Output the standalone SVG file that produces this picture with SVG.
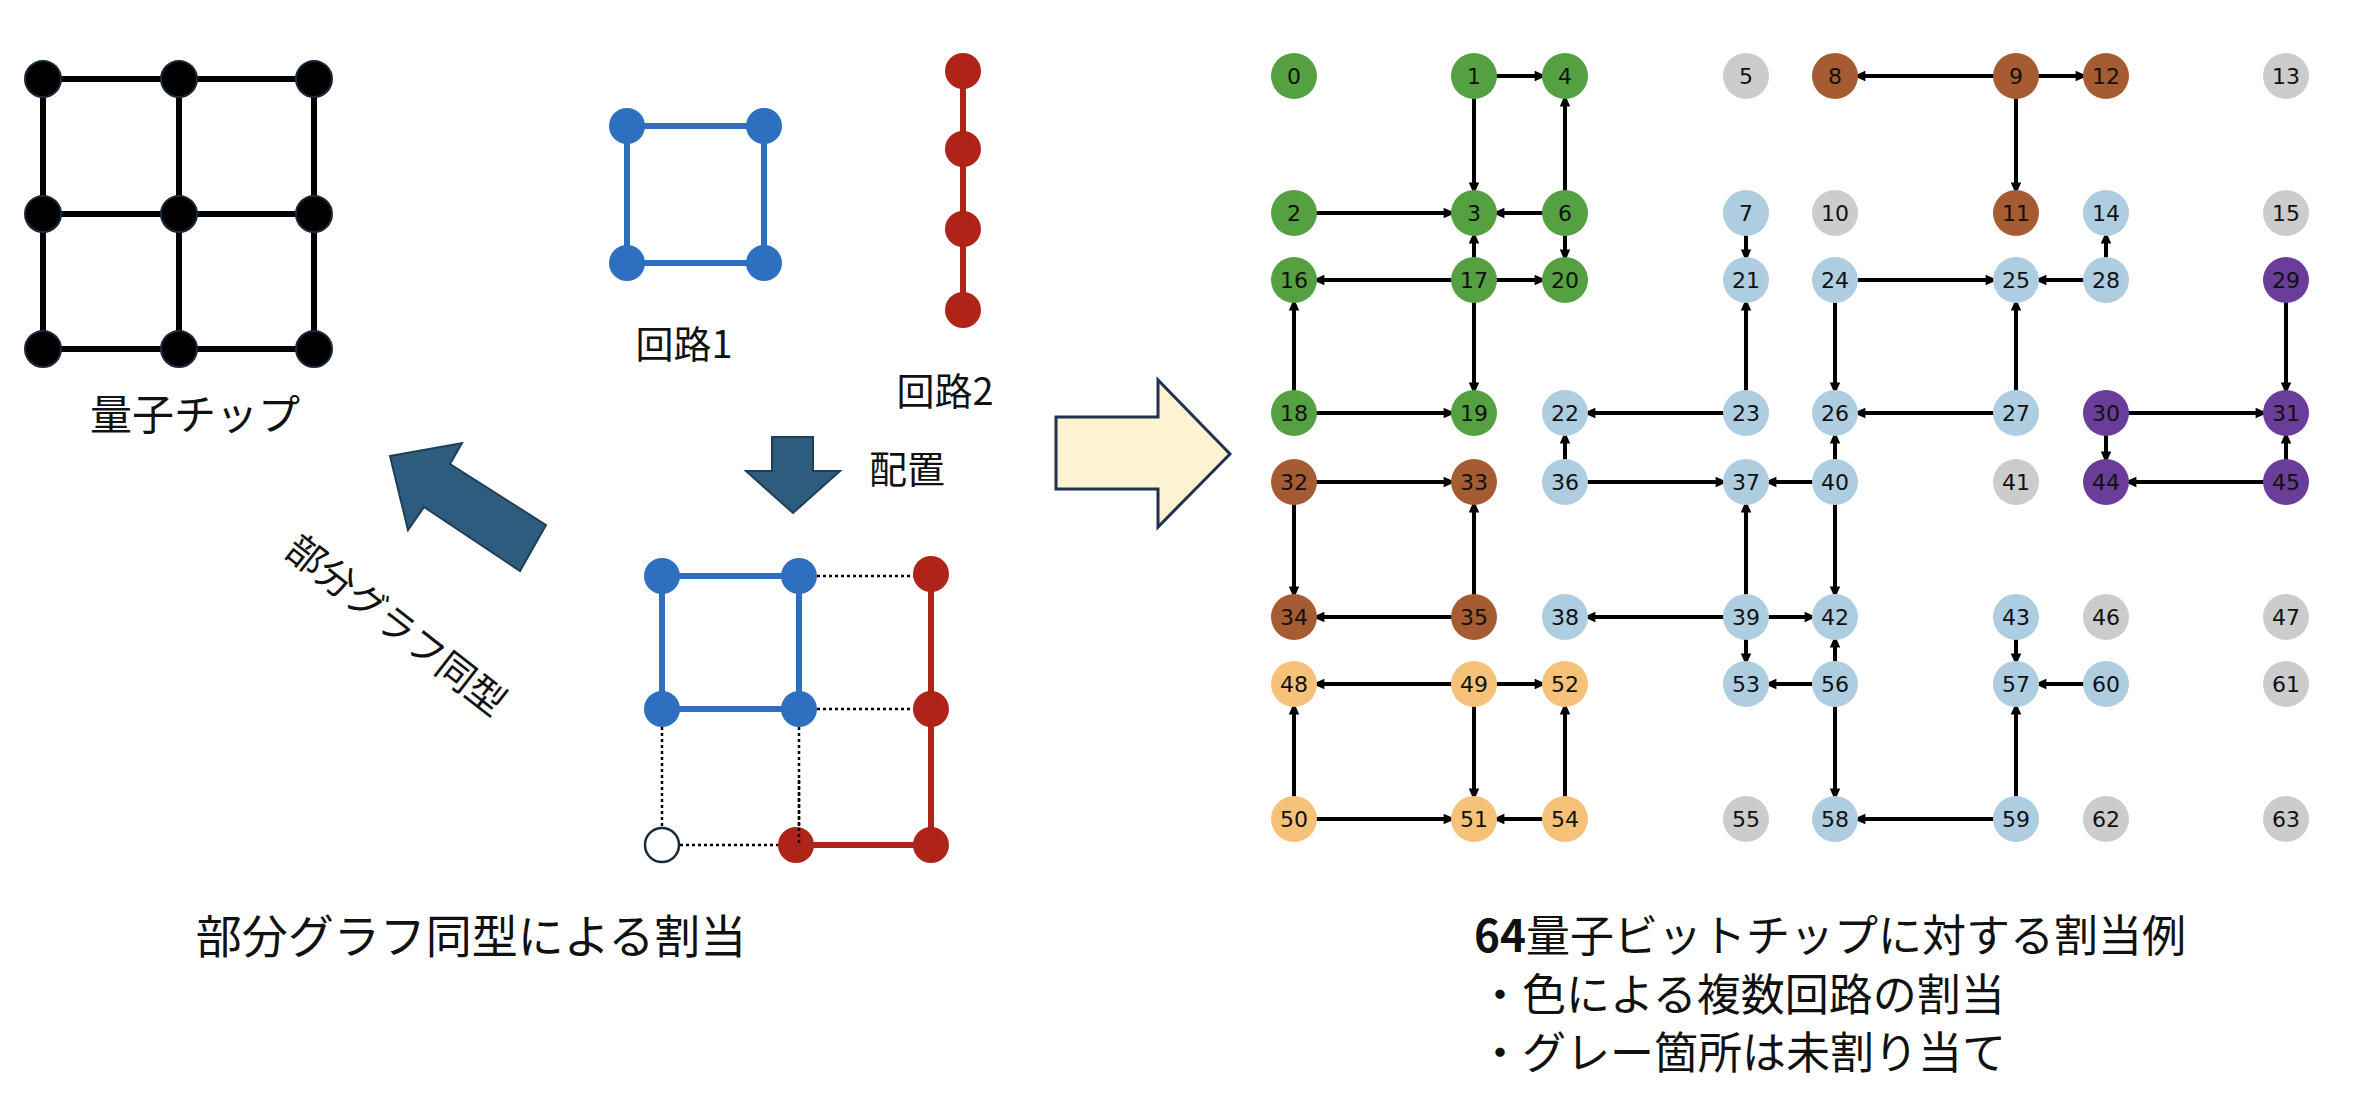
<svg xmlns="http://www.w3.org/2000/svg" width="2370" height="1110" viewBox="0 0 2370 1110">
<style>
.t{font-family:"Noto Sans CJK JP","Liberation Sans",sans-serif;fill:#111}
.n{font-family:"DejaVu Sans",sans-serif;font-size:22px;text-anchor:middle;dominant-baseline:central;fill:#111}
.e line{stroke:#000;stroke-width:4;marker-end:url(#ah)}
.g{fill:#55a040}.b{fill:#a65c32}.l{fill:#aecde1}.y{fill:#cccccc}.p{fill:#6a3d9a}.o{fill:#f6c27a}
.chip line{stroke:#000;stroke-width:6}
.dot{stroke:#000;stroke-width:2.5;stroke-dasharray:3 3;fill:none}
</style>
<defs>
<marker id="ah" markerUnits="userSpaceOnUse" markerWidth="40" markerHeight="20" refX="23" refY="0" orient="auto" viewBox="-20 -10 50 20" style="overflow:visible">
<path d="M-15,-6.5 L0,0 L-15,6.5 z" fill="#000"/>
</marker>
</defs>
<rect width="2370" height="1110" fill="#fff"/>
<g id="chip" class="chip">
<line x1="43" y1="79" x2="314" y2="79"/><line x1="43" y1="214" x2="314" y2="214"/><line x1="43" y1="349" x2="314" y2="349"/>
<line x1="43" y1="79" x2="43" y2="349"/><line x1="179" y1="79" x2="179" y2="349"/><line x1="314" y1="79" x2="314" y2="349"/>
<g fill="#000" stroke="#1a2a3a" stroke-width="2">
<circle cx="43" cy="79" r="18"/><circle cx="179" cy="79" r="18"/><circle cx="314" cy="79" r="18"/>
<circle cx="43" cy="214" r="18"/><circle cx="179" cy="214" r="18"/><circle cx="314" cy="214" r="18"/>
<circle cx="43" cy="349" r="18"/><circle cx="179" cy="349" r="18"/><circle cx="314" cy="349" r="18"/>
</g>
<text class="t" x="195" y="430" font-size="42" text-anchor="middle">量子チップ</text>
</g>
<g id="circuit1">
<rect x="627" y="126" width="137" height="137" fill="none" stroke="#2f6fbf" stroke-width="6"/>
<g fill="#2f6fbf"><circle cx="627" cy="126" r="18"/><circle cx="764" cy="126" r="18"/><circle cx="627" cy="263" r="18"/><circle cx="764" cy="263" r="18"/></g>
<text class="t" x="684" y="358" font-size="38" text-anchor="middle">回路1</text>
</g>
<g id="circuit2">
<line x1="963" y1="71" x2="963" y2="310" stroke="#b02318" stroke-width="6"/>
<g fill="#b02318"><circle cx="963" cy="71" r="18"/><circle cx="963" cy="149" r="18"/><circle cx="963" cy="229" r="18"/><circle cx="963" cy="310" r="18"/></g>
<text class="t" x="945" y="405" font-size="38" text-anchor="middle">回路2</text>
</g>
<g id="place-arrow">
<polygon points="772,437 813,437 813,471 840,471 793,513 746,471 772,471" fill="#2e5c7e" stroke="#1f3f58" stroke-width="2"/>
<text class="t" x="869" y="483" font-size="38">配置</text>
</g>
<g id="iso-arrow">
<polygon points="390,456 462,443 450,464 546,525 520,571 424,507 408,530" fill="#2e5c7e" stroke="#1f3f58" stroke-width="2"/>
<text class="t" x="398" y="623" font-size="38" text-anchor="middle" dominant-baseline="central" transform="rotate(38 398 623)">部分グラフ同型</text>
</g>
<g id="mapped">
<line class="dot" x1="799" y1="576" x2="931" y2="576"/>
<line class="dot" x1="799" y1="709" x2="931" y2="709"/>
<line class="dot" x1="662" y1="709" x2="662" y2="845"/>
<line class="dot" x1="799" y1="709" x2="799" y2="845"/>
<line class="dot" x1="662" y1="845" x2="796" y2="845"/>
<rect x="662" y="576" width="137" height="133" fill="none" stroke="#2f6fbf" stroke-width="6"/>
<polyline points="931,574 931,845 796,845" fill="none" stroke="#b02318" stroke-width="6"/>
<g fill="#2f6fbf"><circle cx="662" cy="576" r="18"/><circle cx="799" cy="576" r="18"/><circle cx="662" cy="709" r="18"/><circle cx="799" cy="709" r="18"/></g>
<g fill="#b02318"><circle cx="931" cy="574" r="18"/><circle cx="931" cy="709" r="18"/><circle cx="931" cy="845" r="18"/><circle cx="796" cy="845" r="18"/></g>
<circle cx="662" cy="845" r="17" fill="#fff" stroke="#1a2a3a" stroke-width="2.5"/>
<line class="dot" x1="799" y1="780" x2="799" y2="845"/>
<text class="t" x="471" y="953" font-size="46" text-anchor="middle">部分グラフ同型による割当</text>
</g>
<g id="big-arrow">
<polygon points="1056,417 1158,417 1158,380 1230,454 1158,527 1158,489 1056,489" fill="#fdf3d0" stroke="#1f3350" stroke-width="3"/>
</g>
<g id="connectors" class="e">
<line x1="1474" y1="76" x2="1565" y2="76"/><line x1="1474" y1="76" x2="1474" y2="213"/><line x1="1565" y1="213" x2="1565" y2="76"/>
<line x1="1294" y1="213" x2="1474" y2="213"/><line x1="1565" y1="213" x2="1474" y2="213"/><line x1="1565" y1="213" x2="1565" y2="280"/>
<line x1="2016" y1="76" x2="1835" y2="76"/><line x1="2016" y1="76" x2="2106" y2="76"/><line x1="2016" y1="76" x2="2016" y2="213"/>
<line x1="1746" y1="213" x2="1746" y2="280"/><line x1="2106" y1="280" x2="2106" y2="213"/>
<line x1="1474" y1="280" x2="1294" y2="280"/><line x1="1474" y1="280" x2="1565" y2="280"/><line x1="1474" y1="280" x2="1474" y2="213"/><line x1="1474" y1="280" x2="1474" y2="413"/>
<line x1="1294" y1="413" x2="1294" y2="280"/><line x1="1294" y1="413" x2="1474" y2="413"/>
<line x1="1835" y1="280" x2="2016" y2="280"/><line x1="2106" y1="280" x2="2016" y2="280"/><line x1="1835" y1="280" x2="1835" y2="413"/>
<line x1="2016" y1="413" x2="2016" y2="280"/><line x1="1746" y1="413" x2="1746" y2="280"/><line x1="1746" y1="413" x2="1565" y2="413"/>
<line x1="2286" y1="280" x2="2286" y2="413"/><line x1="2016" y1="413" x2="1835" y2="413"/><line x1="2106" y1="413" x2="2286" y2="413"/>
<line x1="2106" y1="413" x2="2106" y2="482"/><line x1="2286" y1="482" x2="2286" y2="413"/><line x1="2286" y1="482" x2="2106" y2="482"/>
<line x1="1565" y1="482" x2="1565" y2="413"/><line x1="1565" y1="482" x2="1746" y2="482"/><line x1="1835" y1="482" x2="1746" y2="482"/>
<line x1="1835" y1="482" x2="1835" y2="413"/><line x1="1835" y1="482" x2="1835" y2="617"/><line x1="1746" y1="617" x2="1746" y2="482"/>
<line x1="1294" y1="482" x2="1474" y2="482"/><line x1="1294" y1="482" x2="1294" y2="617"/><line x1="1474" y1="617" x2="1474" y2="482"/>
<line x1="1474" y1="617" x2="1294" y2="617"/><line x1="1746" y1="617" x2="1565" y2="617"/><line x1="1746" y1="617" x2="1835" y2="617"/>
<line x1="1746" y1="617" x2="1746" y2="684"/><line x1="1835" y1="684" x2="1835" y2="617"/><line x1="1835" y1="684" x2="1746" y2="684"/>
<line x1="2016" y1="617" x2="2016" y2="684"/><line x1="2106" y1="684" x2="2016" y2="684"/>
<line x1="1474" y1="684" x2="1294" y2="684"/><line x1="1474" y1="684" x2="1565" y2="684"/><line x1="1474" y1="684" x2="1474" y2="819"/>
<line x1="1294" y1="819" x2="1294" y2="684"/><line x1="1294" y1="819" x2="1474" y2="819"/><line x1="1565" y1="819" x2="1474" y2="819"/>
<line x1="1565" y1="819" x2="1565" y2="684"/><line x1="1835" y1="684" x2="1835" y2="819"/><line x1="2016" y1="819" x2="1835" y2="819"/>
<line x1="2016" y1="819" x2="2016" y2="684"/>
</g>
<g id="q0"><circle class="g" cx="1294" cy="76" r="23"/><text class="n" x="1294" y="76">0</text></g>
<g id="q1"><circle class="g" cx="1474" cy="76" r="23"/><text class="n" x="1474" y="76">1</text></g>
<g id="q4"><circle class="g" cx="1565" cy="76" r="23"/><text class="n" x="1565" y="76">4</text></g>
<g id="q5"><circle class="y" cx="1746" cy="76" r="23"/><text class="n" x="1746" y="76">5</text></g>
<g id="q8"><circle class="b" cx="1835" cy="76" r="23"/><text class="n" x="1835" y="76">8</text></g>
<g id="q9"><circle class="b" cx="2016" cy="76" r="23"/><text class="n" x="2016" y="76">9</text></g>
<g id="q12"><circle class="b" cx="2106" cy="76" r="23"/><text class="n" x="2106" y="76">12</text></g>
<g id="q13"><circle class="y" cx="2286" cy="76" r="23"/><text class="n" x="2286" y="76">13</text></g>
<g id="q2"><circle class="g" cx="1294" cy="213" r="23"/><text class="n" x="1294" y="213">2</text></g>
<g id="q3"><circle class="g" cx="1474" cy="213" r="23"/><text class="n" x="1474" y="213">3</text></g>
<g id="q6"><circle class="g" cx="1565" cy="213" r="23"/><text class="n" x="1565" y="213">6</text></g>
<g id="q7"><circle class="l" cx="1746" cy="213" r="23"/><text class="n" x="1746" y="213">7</text></g>
<g id="q10"><circle class="y" cx="1835" cy="213" r="23"/><text class="n" x="1835" y="213">10</text></g>
<g id="q11"><circle class="b" cx="2016" cy="213" r="23"/><text class="n" x="2016" y="213">11</text></g>
<g id="q14"><circle class="l" cx="2106" cy="213" r="23"/><text class="n" x="2106" y="213">14</text></g>
<g id="q15"><circle class="y" cx="2286" cy="213" r="23"/><text class="n" x="2286" y="213">15</text></g>
<g id="q16"><circle class="g" cx="1294" cy="280" r="23"/><text class="n" x="1294" y="280">16</text></g>
<g id="q17"><circle class="g" cx="1474" cy="280" r="23"/><text class="n" x="1474" y="280">17</text></g>
<g id="q20"><circle class="g" cx="1565" cy="280" r="23"/><text class="n" x="1565" y="280">20</text></g>
<g id="q21"><circle class="l" cx="1746" cy="280" r="23"/><text class="n" x="1746" y="280">21</text></g>
<g id="q24"><circle class="l" cx="1835" cy="280" r="23"/><text class="n" x="1835" y="280">24</text></g>
<g id="q25"><circle class="l" cx="2016" cy="280" r="23"/><text class="n" x="2016" y="280">25</text></g>
<g id="q28"><circle class="l" cx="2106" cy="280" r="23"/><text class="n" x="2106" y="280">28</text></g>
<g id="q29"><circle class="p" cx="2286" cy="280" r="23"/><text class="n" x="2286" y="280">29</text></g>
<g id="q18"><circle class="g" cx="1294" cy="413" r="23"/><text class="n" x="1294" y="413">18</text></g>
<g id="q19"><circle class="g" cx="1474" cy="413" r="23"/><text class="n" x="1474" y="413">19</text></g>
<g id="q22"><circle class="l" cx="1565" cy="413" r="23"/><text class="n" x="1565" y="413">22</text></g>
<g id="q23"><circle class="l" cx="1746" cy="413" r="23"/><text class="n" x="1746" y="413">23</text></g>
<g id="q26"><circle class="l" cx="1835" cy="413" r="23"/><text class="n" x="1835" y="413">26</text></g>
<g id="q27"><circle class="l" cx="2016" cy="413" r="23"/><text class="n" x="2016" y="413">27</text></g>
<g id="q30"><circle class="p" cx="2106" cy="413" r="23"/><text class="n" x="2106" y="413">30</text></g>
<g id="q31"><circle class="p" cx="2286" cy="413" r="23"/><text class="n" x="2286" y="413">31</text></g>
<g id="q32"><circle class="b" cx="1294" cy="482" r="23"/><text class="n" x="1294" y="482">32</text></g>
<g id="q33"><circle class="b" cx="1474" cy="482" r="23"/><text class="n" x="1474" y="482">33</text></g>
<g id="q36"><circle class="l" cx="1565" cy="482" r="23"/><text class="n" x="1565" y="482">36</text></g>
<g id="q37"><circle class="l" cx="1746" cy="482" r="23"/><text class="n" x="1746" y="482">37</text></g>
<g id="q40"><circle class="l" cx="1835" cy="482" r="23"/><text class="n" x="1835" y="482">40</text></g>
<g id="q41"><circle class="y" cx="2016" cy="482" r="23"/><text class="n" x="2016" y="482">41</text></g>
<g id="q44"><circle class="p" cx="2106" cy="482" r="23"/><text class="n" x="2106" y="482">44</text></g>
<g id="q45"><circle class="p" cx="2286" cy="482" r="23"/><text class="n" x="2286" y="482">45</text></g>
<g id="q34"><circle class="b" cx="1294" cy="617" r="23"/><text class="n" x="1294" y="617">34</text></g>
<g id="q35"><circle class="b" cx="1474" cy="617" r="23"/><text class="n" x="1474" y="617">35</text></g>
<g id="q38"><circle class="l" cx="1565" cy="617" r="23"/><text class="n" x="1565" y="617">38</text></g>
<g id="q39"><circle class="l" cx="1746" cy="617" r="23"/><text class="n" x="1746" y="617">39</text></g>
<g id="q42"><circle class="l" cx="1835" cy="617" r="23"/><text class="n" x="1835" y="617">42</text></g>
<g id="q43"><circle class="l" cx="2016" cy="617" r="23"/><text class="n" x="2016" y="617">43</text></g>
<g id="q46"><circle class="y" cx="2106" cy="617" r="23"/><text class="n" x="2106" y="617">46</text></g>
<g id="q47"><circle class="y" cx="2286" cy="617" r="23"/><text class="n" x="2286" y="617">47</text></g>
<g id="q48"><circle class="o" cx="1294" cy="684" r="23"/><text class="n" x="1294" y="684">48</text></g>
<g id="q49"><circle class="o" cx="1474" cy="684" r="23"/><text class="n" x="1474" y="684">49</text></g>
<g id="q52"><circle class="o" cx="1565" cy="684" r="23"/><text class="n" x="1565" y="684">52</text></g>
<g id="q53"><circle class="l" cx="1746" cy="684" r="23"/><text class="n" x="1746" y="684">53</text></g>
<g id="q56"><circle class="l" cx="1835" cy="684" r="23"/><text class="n" x="1835" y="684">56</text></g>
<g id="q57"><circle class="l" cx="2016" cy="684" r="23"/><text class="n" x="2016" y="684">57</text></g>
<g id="q60"><circle class="l" cx="2106" cy="684" r="23"/><text class="n" x="2106" y="684">60</text></g>
<g id="q61"><circle class="y" cx="2286" cy="684" r="23"/><text class="n" x="2286" y="684">61</text></g>
<g id="q50"><circle class="o" cx="1294" cy="819" r="23"/><text class="n" x="1294" y="819">50</text></g>
<g id="q51"><circle class="o" cx="1474" cy="819" r="23"/><text class="n" x="1474" y="819">51</text></g>
<g id="q54"><circle class="o" cx="1565" cy="819" r="23"/><text class="n" x="1565" y="819">54</text></g>
<g id="q55"><circle class="y" cx="1746" cy="819" r="23"/><text class="n" x="1746" y="819">55</text></g>
<g id="q58"><circle class="l" cx="1835" cy="819" r="23"/><text class="n" x="1835" y="819">58</text></g>
<g id="q59"><circle class="l" cx="2016" cy="819" r="23"/><text class="n" x="2016" y="819">59</text></g>
<g id="q62"><circle class="y" cx="2106" cy="819" r="23"/><text class="n" x="2106" y="819">62</text></g>
<g id="q63"><circle class="y" cx="2286" cy="819" r="23"/><text class="n" x="2286" y="819">63</text></g>
<g id="caption">
<text class="t" x="1474" y="952" font-size="44"><tspan font-weight="bold">64</tspan>量子ビットチップに対する割当例</text>
<text class="t" x="1478" y="1011" font-size="44">・色による複数回路の割当</text>
<text class="t" x="1478" y="1069" font-size="44">・グレー箇所は未割り当て</text>
</g>
</svg>
